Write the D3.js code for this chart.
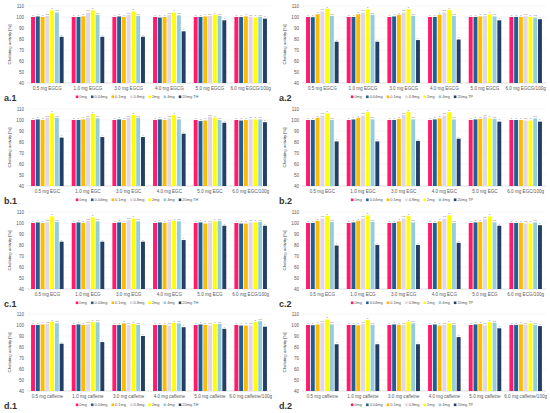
<!DOCTYPE html>
<html><head><meta charset="utf-8">
<script src="https://cdn.jsdelivr.net/npm/d3@7"></script>
<style>body{margin:0;background:#fff} text{font-family:"Liberation Sans",Arial,sans-serif}</style>
</head><body>
<svg id="chart" width="550" height="413"></svg>
<script>
// series / colours shared by all eight panels
const series = ["0mg", "0.04mg", "0.1mg", "0.8mg", "2mg", "4mg", "20mg TH"];
const colors = ["#ff1a6b", "#1f5f96", "#ffbb00", "#e0d6e8", "#ffff00", "#93cddd", "#243e66"];
const doses = ["0.5 mg", "1.0 mg", "3.0 mg", "4.0 mg", "5.0 mg", "6.0 mg"];
const yTicks = [40, 50, 60, 70, 80, 90, 100, 110];
const letters = ["a", "a", "a", "a,b", "b", "a,b", "c"];

// rows = dose groups, columns = series
const a1 = [[100, 100.5, 100, 101, 106, 104, 82],
            [100, 100, 100.5, 104, 106, 102, 82],
            [100, 100.5, 100, 102, 105, 101, 82],
            [100, 99.5, 100, 102, 104, 101.5, 87],
            [100, 100, 100.5, 101, 102, 101, 97],
            [100, 100, 100.5, 100, 99.5, 100, 98.5]];
const a2 = [[100, 99.8, 102.5, 105, 107.5, 101, 77.5],
            [100, 100, 102.5, 104, 107, 102, 77.5],
            [100, 100.5, 102, 104, 107, 101, 79],
            [100, 100, 102, 104, 106.5, 101, 79.5],
            [100, 100, 100.5, 101, 102.5, 100.5, 97],
            [100, 100, 100, 100.5, 100, 99.5, 98]];
const b1 = [[100, 100.5, 100, 102, 106, 102, 84],
            [100, 100, 100.5, 102, 105.5, 101.5, 84.5],
            [100, 100.5, 100, 102, 104.5, 102, 84.5],
            [100, 100.5, 100, 101.5, 104.5, 100.5, 87.5],
            [100, 99, 99.5, 103, 102, 100, 97.5],
            [100, 99.5, 100, 100.5, 100.5, 100.5, 98]];
const b2 = [[100, 100, 102, 104, 106, 100, 80.5],
            [100, 100.5, 102, 104, 107, 100.5, 80.5],
            [100, 100, 101, 104.5, 107.5, 100.5, 81],
            [100, 100.5, 101.5, 104, 107, 100.5, 83],
            [100, 100.5, 101, 103, 101.5, 101, 98.5],
            [100, 100, 100, 99.5, 99.5, 101.5, 98.5]];
const c1 = [[100, 100.5, 100, 100.5, 106, 101, 83],
            [100, 100.5, 100, 102, 105, 101.5, 83],
            [100, 100.5, 100, 102.5, 104, 101.5, 83],
            [100, 100.5, 100, 101, 102, 101.5, 84.5],
            [100, 100.5, 99.5, 100, 101.5, 102, 97.5],
            [100, 99.5, 99.5, 100.5, 100.5, 101, 97.5]];
const c2 = [[100, 100, 102, 104, 106.5, 101, 79.5],
            [100, 100.5, 102, 104, 107, 101, 80],
            [100, 100, 101.5, 104, 106.5, 100.5, 80],
            [100, 100, 101.5, 104, 107, 100, 82],
            [100, 100.5, 101, 103.5, 106, 100.5, 97.5],
            [100, 100, 100, 99.5, 99.5, 100.5, 98]];
const d1 = [[100, 100, 100.5, 101, 103, 101.5, 83],
            [100, 100.5, 100, 100.5, 102.5, 102.5, 84.5],
            [100, 100, 101.5, 100, 101, 100, 90],
            [100, 100, 100, 99.5, 102, 101.5, 98],
            [100, 100.5, 100, 99.5, 101, 101, 96.5],
            [100, 99.5, 99.5, 99.5, 102.5, 103.5, 98.5]];
const d2 = [[100, 99.8, 100.5, 102, 105, 100.5, 82.5],
            [100, 100, 99.8, 101, 104.5, 100, 82.5],
            [100, 100.5, 100, 100, 103, 101.5, 82.5],
            [100, 100.5, 99.5, 100, 101.5, 100, 89],
            [100, 100.5, 101, 99.5, 102.5, 102, 97],
            [100, 100, 100.5, 100, 101.5, 100, 99]];

const panels = [
  {name: "a.1", cmp: "EGCG", last: "20mg TH", data: a1, col: 0, row: 0},
  {name: "a.2", cmp: "EGCG", last: "20mg TP", data: a2, col: 1, row: 0},
  {name: "b.1", cmp: "EGC", last: "20mg TH", data: b1, col: 0, row: 1},
  {name: "b.2", cmp: "EGC", last: "20mg TP", data: b2, col: 1, row: 1},
  {name: "c.1", cmp: "ECG", last: "20mg TH", data: c1, col: 0, row: 2},
  {name: "c.2", cmp: "ECG", last: "20mg TP", data: c2, col: 1, row: 2},
  {name: "d.1", cmp: "caffeine", last: "20mg TH", data: d1, col: 0, row: 3},
  {name: "d.2", cmp: "caffeine", last: "20mg TP", data: d2, col: 1, row: 3}
];
const rowTop = [0, 103, 206, 308];

const svg = d3.select("#chart");

panels.forEach(p => {
  const px = p.col * 275, py = rowTop[p.row];
  const g = svg.append("g").attr("transform", `translate(${px},${py})`);
  const cats = doses.map((d, i) => d + " " + p.cmp + (i === 5 ? "/100g" : ""));

  const x = d3.scaleBand().domain(cats).range([27, 271]).paddingInner(0.2).paddingOuter(0.1);
  const xs = d3.scaleBand().domain(series).range([0, x.bandwidth()]).paddingInner(0.18);
  const y = d3.scaleLinear().domain([40, 110]).range([83, 6]);

  // grid
  g.append("g").selectAll("line").data(yTicks).join("line")
    .attr("x1", 27).attr("x2", 271)
    .attr("y1", d => y(d)).attr("y2", d => y(d))
    .attr("stroke", d => d === 40 ? "#bfbfbf" : "#ececec").attr("stroke-width", 0.5);

  // y ticks
  const ya = g.append("g").attr("transform", "translate(27,0)")
    .call(d3.axisLeft(y).tickValues(yTicks).tickSize(0).tickPadding(3));
  ya.select(".domain").remove();
  ya.selectAll("text").attr("font-size", 4.6).attr("fill", "#595959")
    .attr("font-family", "Liberation Sans, Arial, sans-serif");

  g.append("text").attr("transform", `translate(11,${(y(40) + y(110)) / 2}) rotate(-90)`)
    .attr("text-anchor", "middle").attr("font-size", 4.3).attr("fill", "#404040")
    .text("Chelating activity [%]");

  // x labels
  const xa = g.append("g").attr("transform", `translate(0,${y(40)})`)
    .call(d3.axisBottom(x).tickSize(0).tickPadding(4));
  xa.select(".domain").remove();
  xa.selectAll("text").attr("font-size", 4.6).attr("fill", "#595959")
    .attr("font-family", "Liberation Sans, Arial, sans-serif");

  // bars
  const grp = g.append("g").selectAll("g").data(p.data).join("g")
    .attr("transform", (d, i) => `translate(${x(cats[i])},0)`);
  grp.selectAll("rect").data(d => d.map((v, j) => ({v, s: series[j], j}))).join("rect")
    .attr("x", d => xs(d.s)).attr("width", xs.bandwidth())
    .attr("y", d => y(d.v)).attr("height", d => y(40) - y(d.v))
    .attr("fill", d => colors[d.j]);
  grp.selectAll("text").data(d => d.map((v, j) => ({v, s: series[j], j}))).join("text")
    .attr("x", d => xs(d.s) + xs.bandwidth() / 2).attr("y", d => y(d.v) - 1.2)
    .attr("text-anchor", "middle").attr("font-size", 2.4).attr("fill", "#666")
    .text(d => letters[d.j]);

  // legend
  const names = series.slice(0, 6).concat([p.last]);
  const lg = g.append("g");
  let cx = 0;
  names.forEach((n, i) => {
    const it = lg.append("g").attr("transform", `translate(${cx},0)`);
    it.append("rect").attr("x", 0).attr("y", -2.5).attr("width", 2.6).attr("height", 2.6).attr("fill", colors[i]);
    const t = it.append("text").attr("x", 3.6).attr("y", 0.3).attr("font-size", 3.9).attr("fill", "#595959").text(n);
    cx += 3.6 + t.node().getComputedTextLength() + 4;
  });
  const total = cx - 4;
  lg.attr("transform", `translate(${137 - total / 2},98)`);

  // panel label
  g.append("text").attr("x", 4).attr("y", 101).attr("font-size", 9)
    .attr("font-weight", "bold").attr("fill", "#333").text(p.name);
});
</script>
</body></html>
